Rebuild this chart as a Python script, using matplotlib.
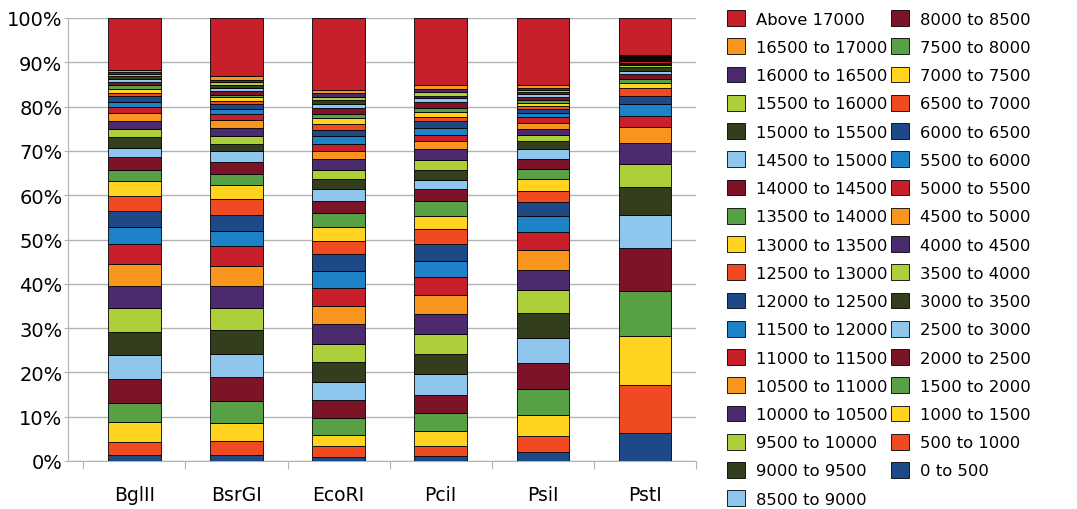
import numpy as np
import matplotlib
matplotlib.use("Agg")
import matplotlib.pyplot as plt

enzymes = ["BglII", "BsrGI", "EcoRI", "PciI", "PsiI", "PstI"]

bins = [f"{lo} to {lo + 500}" for lo in range(0, 17000, 500)] + ["Above 17000"]

# share of fragments per size bin (%), bottom to top
bglii = [1.3, 2.9, 4.5, 4.4, 5.4, 5.4, 5.3, 5.3, 4.9, 5.0,
         4.5, 4.0, 3.6, 3.4, 3.2, 2.7, 2.8, 2.1, 2.4, 1.8,
         1.8, 1.8, 1.3, 1.2, 1.4, 0.7, 0.9, 0.9, 0.6, 0.8,
         0.6, 0.5, 0.4, 0.5, 11.7]
bsrgi = [1.35, 3.25, 4.0, 4.9, 5.4, 5.3, 5.4, 4.9, 4.9, 4.6,
         4.5, 3.5, 3.6, 3.5, 3.1, 2.6, 2.8, 2.3, 1.7, 1.8,
         1.8, 1.8, 1.3, 1.1, 1.2, 0.7, 0.8, 0.6, 0.9, 0.6,
         0.7, 0.7, 0.5, 0.8, 13.1]
ecori = [0.8, 2.5, 2.6, 3.7, 4.2, 4.1, 4.5, 4.1, 4.4, 4.2,
         3.9, 4.0, 3.7, 3.0, 3.2, 3.1, 2.6, 2.7, 2.3, 2.2,
         2.3, 1.8, 1.7, 1.8, 1.3, 1.4, 1.3, 0.9, 1.4, 0.9,
         0.9, 0.7, 0.8, 0.7, 16.3]
pcii = [1.05, 2.25, 3.5, 4.0, 4.1, 4.7, 4.6, 4.5, 4.5, 4.3,
        4.1, 3.6, 3.8, 3.4, 3.0, 3.2, 2.8, 2.1, 2.3, 2.2,
        2.4, 1.8, 1.3, 1.7, 1.5, 0.9, 1.2, 0.9, 1.3, 0.9,
        0.6, 0.8, 0.6, 0.9, 15.2]
psii = [2.0, 3.6, 4.8, 5.9, 5.8, 5.7, 5.6, 5.3, 4.5, 4.4,
        4.0, 3.6, 3.2, 2.5, 2.8, 2.2, 2.3, 2.2, 1.8, 1.3,
        1.4, 1.3, 1.4, 0.9, 0.9, 0.7, 0.8, 0.6, 0.7, 0.6,
        0.5, 0.4, 0.5, 0.6, 15.2]
psti = [6.3, 10.9, 11.1, 10.1, 9.6, 7.5, 6.3, 5.2, 4.7, 3.6,
        2.6, 2.7, 1.8, 1.8, 1.2, 0.9, 1.1, 0.7, 0.8, 0.4,
        0.3, 0.3, 0.3, 0.3, 0.3, 0.1, 0.1, 0.1, 0.1, 0.08,
        0.08, 0.08, 0.08, 0.08, 8.4]

palette = ["#1d4a86", "#f04a23", "#ffd320", "#57a046", "#7c1326", "#8ec6ee",
           "#333f1c", "#adcf3a", "#4b2a6e", "#f7951f", "#c8202a", "#1e82c8"]

data = np.array([bglii, bsrgi, ecori, pcii, psii, psti], dtype=float)
data = data / data.sum(axis=1, keepdims=True) * 100

fig = plt.figure(figsize=(10.77, 5.1), dpi=100)
ax = fig.add_axes([68 / 1077, 48 / 510, (696 - 68) / 1077, (462 - 19) / 510])

x = np.arange(len(enzymes))
bottom = np.zeros(len(enzymes))
handles = []
for i, lab in enumerate(bins):
    h = ax.bar(x, data[:, i], 0.515, bottom=bottom, color=palette[i % 12],
               edgecolor="black", linewidth=0.6, label=lab, zorder=3)
    handles.append(h)
    bottom += data[:, i]

ax.set_ylim(0, 100)
ax.set_xlim(-0.65, 5.5)
ax.set_yticks(range(0, 101, 10))
ax.set_yticklabels([f"{v}%" for v in range(0, 101, 10)], fontsize=14)
ax.yaxis.grid(True, color="#b3b3b3", linewidth=1, zorder=0)

# category separators as major ticks, names on minor ticks
ax.set_xticks(np.arange(-0.5, 6, 1))
ax.set_xticklabels([])
ax.set_xticks(x, minor=True)
ax.set_xticklabels(enzymes, minor=True, fontsize=13.5)
ax.tick_params(axis="x", which="major", length=6, color="#b3b3b3")
ax.tick_params(axis="x", which="minor", length=0, pad=17)
ax.tick_params(axis="y", length=3, color="#b3b3b3", pad=1)

for s in ["top", "right"]:
    ax.spines[s].set_visible(False)
for s in ["left", "bottom"]:
    ax.spines[s].set_color("#b3b3b3")

fig.legend(handles[::-1], bins[::-1], ncol=2, loc="upper left",
           bbox_to_anchor=(727 / 1077, 0.978), frameon=False, fontsize=11.8,
           handlelength=1.1, handleheight=1.1, handletextpad=0.67,
           labelspacing=0.72, columnspacing=0.2, borderpad=0, borderaxespad=0)

fig.savefig("out.png", dpi=100)
